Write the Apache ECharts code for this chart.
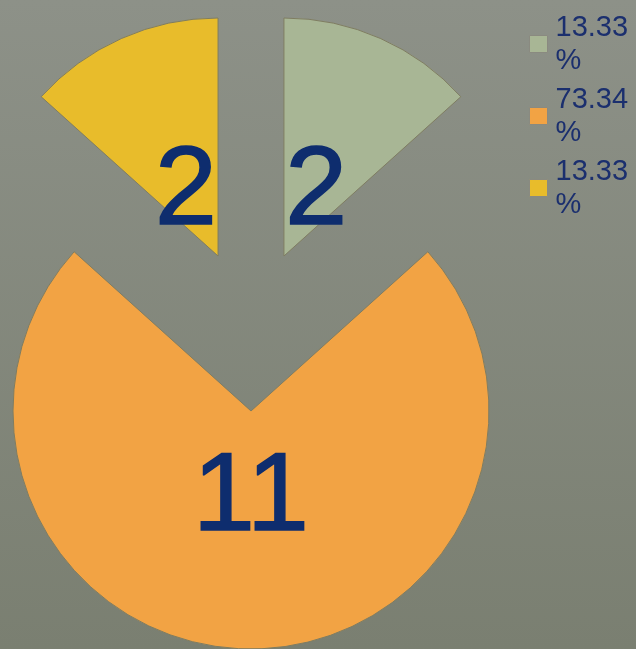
<!DOCTYPE html>
<html>
<head>
<meta charset="utf-8">
<script src="https://cdn.jsdelivr.net/npm/echarts@6/dist/echarts.min.js"></script>
<style>
html,body{margin:0;padding:0;width:636px;height:649px;overflow:hidden;}
#chart{width:636px;height:649px;}
</style>
</head>
<body>
<div id="chart"></div>
<script>
// ---- data ----
const categories = ['Category 1', 'Category 2', 'Category 3'];
const values = [2, 11, 2];
const legendLabels = ['13.33\n%', '73.34\n%', '13.33\n%'];
const sliceColors = ['#a8b695', '#f2a344', '#e8bc2b'];

const chart = echarts.init(document.getElementById('chart'), null, {renderer: 'canvas'});

const pieData = categories.map((c, i) => ({
  name: c, value: values[i], selected: true,
  itemStyle: {color: sliceColors[i]}
}));
const labelData = categories.map((c, i) => ({
  name: c, value: values[i], selected: true
}));

const center = [251, 330];
const radius = 238;
const offset = 81;

chart.setOption({
  animation: false,
  backgroundColor: {
    type: 'linear', x: 0, y: 0, x2: 0, y2: 1,
    colorStops: [
      {offset: 0, color: '#8d9188'},
      {offset: 1, color: '#7a7f71'}
    ]
  },
  legend: {
    orient: 'vertical',
    left: 524,
    top: 6,
    itemWidth: 18,
    itemHeight: 17,
    itemGap: 6,
    selectedMode: false,
    data: categories,
    icon: 'rect',
    itemStyle: {borderColor: '#8a8a80', borderWidth: 1},
    textStyle: {
      color: '#1b2f6e',
      fontSize: 29,
      lineHeight: 33,
      fontFamily: 'Liberation Sans, Arial, sans-serif',
      padding: [0, 0, 0, 3]
    },
    formatter: function (name) {
      return legendLabels[categories.indexOf(name)];
    }
  },
  series: [
    {
      type: 'pie',
      center: center,
      radius: [0, radius],
      startAngle: 90,
      clockwise: true,
      selectedMode: 'multiple',
      selectedOffset: offset,
      silent: true,
      itemStyle: {borderColor: '#7f7d62', borderWidth: 1},
      label: {show: false},
      labelLine: {show: false},
      emphasis: {disabled: true},
      data: pieData
    },
    {
      type: 'pie',
      center: center,
      radius: [0, 152],
      startAngle: 90,
      clockwise: true,
      selectedMode: 'multiple',
      selectedOffset: offset,
      silent: true,
      avoidLabelOverlap: false,
      labelLayout: {hideOverlap: false},
      itemStyle: {color: 'rgba(0,0,0,0)', borderWidth: 0},
      label: {
        show: true,
        position: 'inside',
        formatter: function (p) { return '{s|}\n{v|' + p.value + '}'; },
        rich: {
          s: {fontSize: 1, lineHeight: 18},
          v: {
            color: '#0e2d6e',
            fontSize: 112,
            lineHeight: 112,
            textBorderColor: '#0e2d6e',
            textBorderWidth: 1.5,
            fontFamily: 'Liberation Sans, Arial, sans-serif'
          }
        }
      },
      labelLine: {show: false},
      emphasis: {disabled: true},
      data: labelData
    }
  ]
});
</script>
</body>
</html>
